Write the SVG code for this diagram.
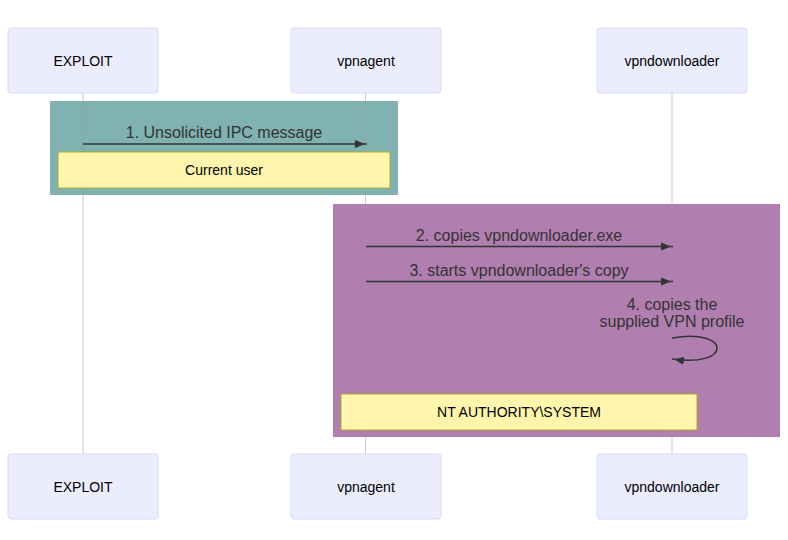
<svg xmlns="http://www.w3.org/2000/svg" width="788" height="540" viewBox="0 0 788 540">
<style>
.actor{fill:#ECECFF;stroke:#D9D9FF;stroke-width:1}
.atext{font-family:"Liberation Sans",Arial,sans-serif;font-size:14px;fill:#000;text-anchor:middle;dominant-baseline:central}
.life{stroke:#999;stroke-opacity:0.5;stroke-width:1}
.msg{stroke:#333;stroke-width:1.5;fill:none}
.mtext{font-family:"Liberation Sans",Arial,sans-serif;font-size:16px;fill:#333;text-anchor:middle}
.note{fill:#FFF5AD;stroke:#AAAA33;stroke-width:1}
.ntext{font-family:"Liberation Sans",Arial,sans-serif;font-size:14px;fill:#000;text-anchor:middle;dominant-baseline:central}
</style>
<defs>
<marker id="arr" viewBox="0 0 12 10" refX="12" refY="5" markerWidth="12" markerHeight="10" markerUnits="userSpaceOnUse" orient="auto">
<path d="M0,1 L10,5 L0,9 z" fill="#333"/>
</marker>
</defs>
<rect x="50" y="101" width="348" height="94" fill="#7FB2B0"/>
<rect x="333" y="204" width="447" height="233" fill="#B07FB0"/>
<g id="lifelines">
<line class="life" x1="83" y1="93" x2="83" y2="454"/>
<line class="life" x1="365.5" y1="93" x2="365.5" y2="454"/>
<line class="life" x1="672" y1="93" x2="672" y2="454"/>
</g>
<g id="actor-exploit-top"><rect class="actor" x="8" y="28" width="150" height="65" rx="3"/><text class="atext" x="83" y="60.5">EXPLOIT</text></g>
<g id="actor-vpnagent-top"><rect class="actor" x="291" y="28" width="150" height="65" rx="3"/><text class="atext" x="366" y="60.5">vpnagent</text></g>
<g id="actor-vpndownloader-top"><rect class="actor" x="597" y="28" width="150" height="65" rx="3"/><text class="atext" x="672" y="60.5">vpndownloader</text></g>
<g id="actor-exploit-bottom"><rect class="actor" x="8" y="454" width="150" height="65" rx="3"/><text class="atext" x="83" y="486.5">EXPLOIT</text></g>
<g id="actor-vpnagent-bottom"><rect class="actor" x="291" y="454" width="150" height="65" rx="3"/><text class="atext" x="366" y="486.5">vpnagent</text></g>
<g id="actor-vpndownloader-bottom"><rect class="actor" x="597" y="454" width="150" height="65" rx="3"/><text class="atext" x="672" y="486.5">vpndownloader</text></g>
<g id="connectors">
<text class="mtext" x="224" y="137.5">1. Unsolicited IPC message</text>
<line class="msg" x1="83" y1="144" x2="367" y2="144" marker-end="url(#arr)"/>
<text class="mtext" x="519" y="240.5">2. copies vpndownloader.exe</text>
<line class="msg" x1="366" y1="246.5" x2="673" y2="246.5" marker-end="url(#arr)"/>
<text class="mtext" x="519" y="275.5">3. starts vpndownloader's copy</text>
<line class="msg" x1="366" y1="281.5" x2="673" y2="281.5" marker-end="url(#arr)"/>
<text class="mtext" x="672" y="310">4. copies the</text>
<text class="mtext" x="672" y="327">supplied VPN profile</text>
<path class="msg" d="M672,338 C732,328 732,368 672,359" marker-end="url(#arr)"/>
</g>
<g id="note-current-user"><rect class="note" x="58" y="152" width="332" height="36"/><text class="ntext" x="224" y="170">Current user</text></g>
<g id="note-nt-authority"><rect class="note" x="341" y="394" width="356" height="36"/><text class="ntext" x="519" y="412">NT AUTHORITY\SYSTEM</text></g>
</svg>
